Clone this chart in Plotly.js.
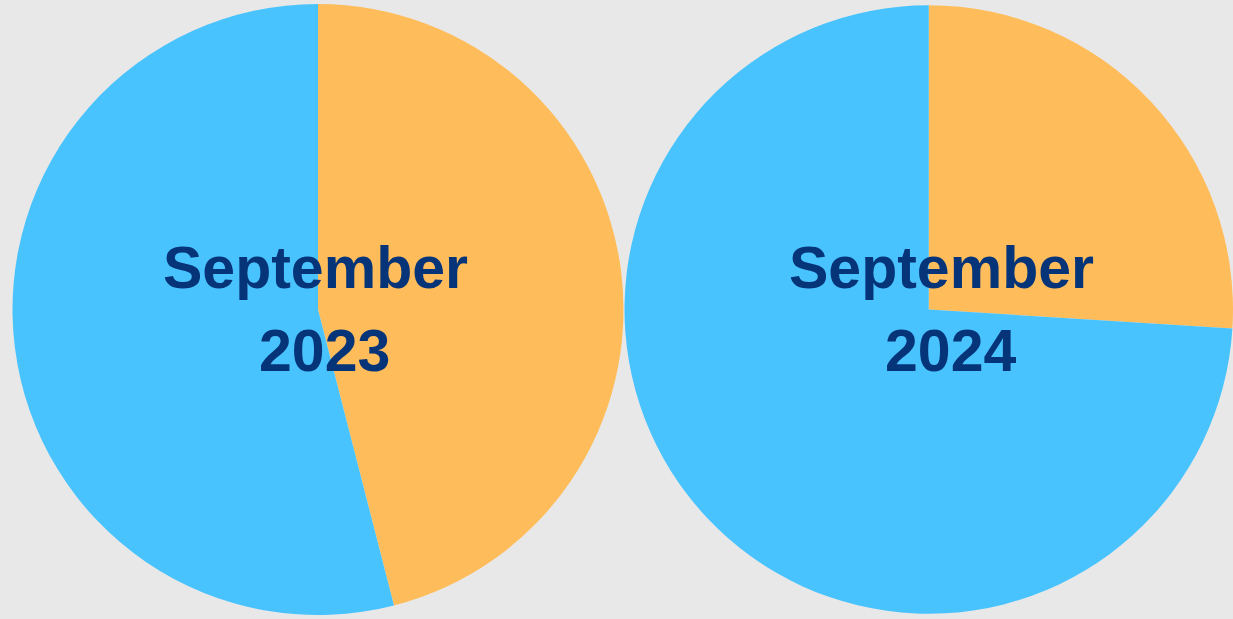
<!DOCTYPE html>
<html>
<head>
<meta charset="utf-8">
<script src="https://cdn.plot.ly/plotly-3.0.1.min.js"></script>
<style>html,body{margin:0;padding:0;background:#e8e8e8;}#chart{width:1233px;height:619px;}</style>
</head>
<body>
<div id="chart"></div>
<script>
const sliceLabels = ["Orange share", "Blue share"];
const values2023 = [46, 54];
const values2024 = [26, 74];
const pieTitles = ["September", "2023", "September", "2024"];
const sliceColors = ["#FEBD5A", "#49C3FE"];

const W = 1233, H = 619;
function px(x){ return x / W; }
function py(y){ return 1 - y / H; }

const traces = [
  {type:"pie", labels:sliceLabels, values:values2023, sort:false, direction:"clockwise", rotation:0,
   marker:{colors:sliceColors, line:{width:0}}, textinfo:"none", hoverinfo:"label+percent",
   domain:{x:[px(12), px(624)], y:[py(615), py(4)]}},
  {type:"pie", labels:sliceLabels, values:values2024, sort:false, direction:"clockwise", rotation:0,
   marker:{colors:sliceColors, line:{width:0}}, textinfo:"none", hoverinfo:"label+percent",
   domain:{x:[px(624.5), 1], y:[py(615), py(4)]}}
];

const font = {family:"Liberation Sans, Arial, sans-serif", size:59, color:"#063478"};
function ann(text, x, yMid){
  return {text:"<b>"+text+"</b>", x:px(x), y:py(yMid), xref:"paper", yref:"paper",
          xanchor:"center", yanchor:"middle", showarrow:false, font:font};
}
const layout = {
  width:W, height:H, margin:{l:0,r:0,t:0,b:0},
  paper_bgcolor:"#e8e8e8", plot_bgcolor:"#e8e8e8", showlegend:false,
  annotations:[
    ann(pieTitles[0], 315, 268),
    ann(pieTitles[1], 324, 351),
    ann(pieTitles[2], 941, 268),
    ann(pieTitles[3], 950, 351)
  ]
};
Plotly.newPlot("chart", traces, layout, {displayModeBar:false, staticPlot:true});
</script>
</body>
</html>
